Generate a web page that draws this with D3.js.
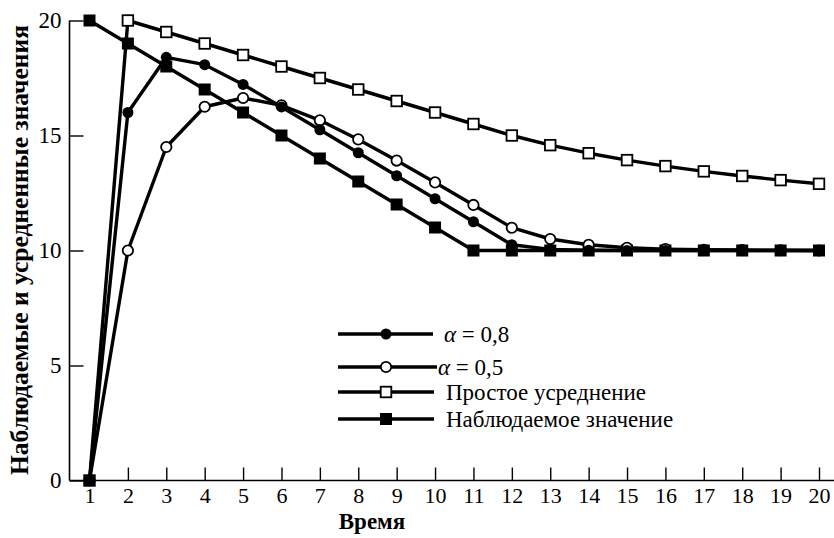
<!DOCTYPE html>
<html><head><meta charset="utf-8">
<script src="https://cdn.jsdelivr.net/npm/d3@7"></script>
<style>body{margin:0;background:#fff}svg{display:block}</style>
</head><body>
<script>
const times = [1,2,3,4,5,6,7,8,9,10,11,12,13,14,15,16,17,18,19,20];
const alpha08 = [0,16,18.4,18.08,17.22,16.24,15.25,14.25,13.25,12.25,11.25,10.25,10.05,10.01,10,10,10,10,10,10];
const alpha05 = [0,10,14.5,16.25,16.63,16.31,15.66,14.83,13.91,12.96,11.98,10.99,10.5,10.25,10.12,10.06,10.03,10.02,10.01,10];
const simpleAvg = [0,20,19.5,19,18.5,18,17.5,17,16.5,16,15.5,15,14.58,14.23,13.93,13.67,13.44,13.24,13.06,12.9];
const observed = [20,19,18,17,16,15,14,13,12,11,10,10,10,10,10,10,10,10,10,10];
const yTicks = [0,5,10,15,20];
const legendLabels = ["α = 0,8","α = 0,5","Простое усреднение","Наблюдаемое значение"];
const xTitle = "Время";
const yTitle = "Наблюдаемые и усредненные значения";

const W=834,H=538;
const svg=d3.select("body").append("svg").attr("width",W).attr("height",H);
const x=d3.scaleLinear().domain([1,20]).range([89.5,819]);
const y=d3.scaleLinear().domain([0,20]).range([480.5,20.5]);
const font="Liberation Serif";

svg.append("line").attr("x1",69.5).attr("x2",834).attr("y1",480.5).attr("y2",480.5).attr("stroke","#000").attr("stroke-width",1.6);
svg.append("line").attr("x1",69.5).attr("x2",69.5).attr("y1",20.5).attr("y2",480.5).attr("stroke","#000").attr("stroke-width",1.6);

const xAxis=d3.axisBottom(x).tickValues(times).tickSize(0).tickPadding(0).tickFormat(d3.format("d"));
const gx=svg.append("g").attr("transform","translate(0,480.5)").call(xAxis);
gx.attr("font-family",font).attr("font-size",22);
gx.select(".domain").remove();
gx.selectAll(".tick line").attr("y2",-13).attr("stroke","#000").attr("stroke-width",1.4);
gx.selectAll(".tick text").attr("y",7).attr("dy","0.71em").attr("fill","#000");

const yAxis=d3.axisLeft(y).tickValues(yTicks).tickSize(0).tickPadding(0);
const gy=svg.append("g").attr("transform","translate(69.5,0)").call(yAxis);
gy.attr("font-family",font).attr("font-size",23);
gy.select(".domain").remove();
gy.selectAll(".tick line").attr("x2",14).attr("stroke","#000").attr("stroke-width",1.4);
gy.selectAll(".tick text").attr("x",-8).attr("fill","#000");

svg.append("text").attr("x",372).attr("y",529).attr("text-anchor","middle").attr("font-family",font).attr("font-weight","bold").attr("font-size",23).text(xTitle);
svg.append("text").attr("transform","translate(28,250) rotate(-90)").attr("text-anchor","middle").attr("font-family",font).attr("font-weight","bold").attr("font-size",25.5).text(yTitle);

const line=d3.line().x((d,i)=>x(times[i])).y(d=>y(d));
const series=[
  {vals:simpleAvg,type:"osq"},
  {vals:observed,type:"fsq"},
  {vals:alpha05,type:"ocirc"},
  {vals:alpha08,type:"fcirc"}
];
function marker(g,type,cx,cy){
  if(type==="fcirc") g.append("circle").attr("cx",cx).attr("cy",cy).attr("r",5.5).attr("fill","#000");
  else if(type==="ocirc") g.append("circle").attr("cx",cx).attr("cy",cy).attr("r",5.2).attr("fill","#fff").attr("stroke","#000").attr("stroke-width",1.8);
  else if(type==="osq") g.append("rect").attr("x",cx-5.3).attr("y",cy-5.3).attr("width",10.6).attr("height",10.6).attr("fill","#fff").attr("stroke","#000").attr("stroke-width",1.8);
  else g.append("rect").attr("x",cx-6).attr("y",cy-6).attr("width",12).attr("height",12).attr("fill","#000");
}
series.forEach(s=>{
  svg.append("path").attr("d",line(s.vals)).attr("fill","none").attr("stroke","#000").attr("stroke-width",3.4).attr("stroke-linejoin","round");
});
series.forEach(s=>{
  const g=svg.append("g");
  s.vals.forEach((v,i)=>marker(g,s.type,x(times[i]),y(v)));
});

const legRows=[{y:334,type:"fcirc",x2:433,tx:444},{y:367,type:"ocirc",x2:437,tx:438},{y:392,type:"osq",x2:434,tx:446},{y:419,type:"fsq",x2:434,tx:446}];
legRows.forEach((r,i)=>{
  svg.append("line").attr("x1",338).attr("x2",r.x2).attr("y1",r.y).attr("y2",r.y).attr("stroke","#000").attr("stroke-width",3.4);
  marker(svg,r.type,386,r.y);
  const t=svg.append("text").attr("x",r.tx).attr("y",r.y).attr("dy","0.33em").attr("font-family",font).attr("font-size",23);
  const lab=legendLabels[i];
  if(lab.startsWith("α")){
    t.append("tspan").attr("font-style","italic").text("α");
    t.append("tspan").text(lab.slice(1));
  } else t.text(lab);
});
</script>
</body></html>
